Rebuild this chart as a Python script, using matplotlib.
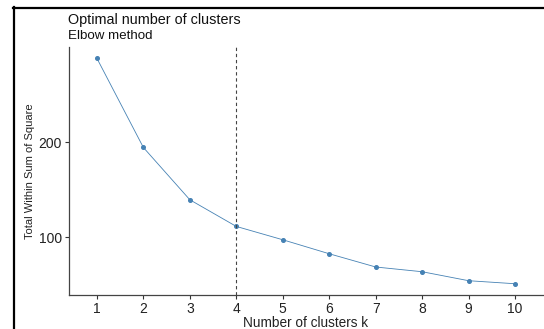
import matplotlib
matplotlib.use("Agg")
import matplotlib.pyplot as plt
from matplotlib.lines import Line2D

k_values = [1, 2, 3, 4, 5, 6, 7, 8, 9, 10]
wss = [289, 194.7, 139.4, 111.2, 97.1, 82.3, 68.3, 63.3, 53.8, 50.6]
optimal_k = 4
y_ticks = [100, 200]

plt.rcParams['font.family'] = ['Liberation Sans', 'DejaVu Sans']

fig = plt.figure(figsize=(5.44, 3.29), dpi=100)
ax = fig.add_axes([69/544, 1 - 295/329, 474/544, 248/329])

ax.plot(k_values, wss, color='#4682B4', linewidth=0.6, marker='o', markersize=2.6,
        markerfacecolor='#4682B4', markeredgecolor='#4682B4')
ax.axvline(optimal_k, color='#444444', linestyle=(0, (3, 2.5)), linewidth=0.8)

ax.set_xlim(0.4, 10.6)
ax.set_ylim(38.7, 300.9)
ax.set_xticks(k_values)
ax.set_yticks(y_ticks)
ax.tick_params(axis='both', direction='out', length=3, width=0.8, color='#333333',
               labelsize=10, labelcolor='#222222', pad=2)
for s in ['top', 'right']:
    ax.spines[s].set_visible(False)
for s in ['left', 'bottom']:
    ax.spines[s].set_color('#444444')
    ax.spines[s].set_linewidth(0.9)

ax.set_xlabel('Number of clusters k', fontsize=9.8, color='#222222', labelpad=0)
ax.set_ylabel('Total Within Sum of Square', fontsize=8, color='#222222', labelpad=3)

fig.text(68/544, 1 - 24/329, 'Optimal number of clusters', fontsize=10.4, color='#111111',
         ha='left', va='baseline')
fig.text(68/544, 1 - 39/329, 'Elbow method', fontsize=9.6, color='#111111',
         ha='left', va='baseline')

# screenshot border lines
fig.add_artist(Line2D([13.5/544, 13.5/544], [0, 1 - 7/329], color='black', linewidth=1.6,
                      transform=fig.transFigure))
fig.add_artist(Line2D([13/544, 1], [1 - 7.5/329, 1 - 7.5/329], color='black', linewidth=1.6,
                      transform=fig.transFigure))

fig.savefig('out.png', dpi=100)
